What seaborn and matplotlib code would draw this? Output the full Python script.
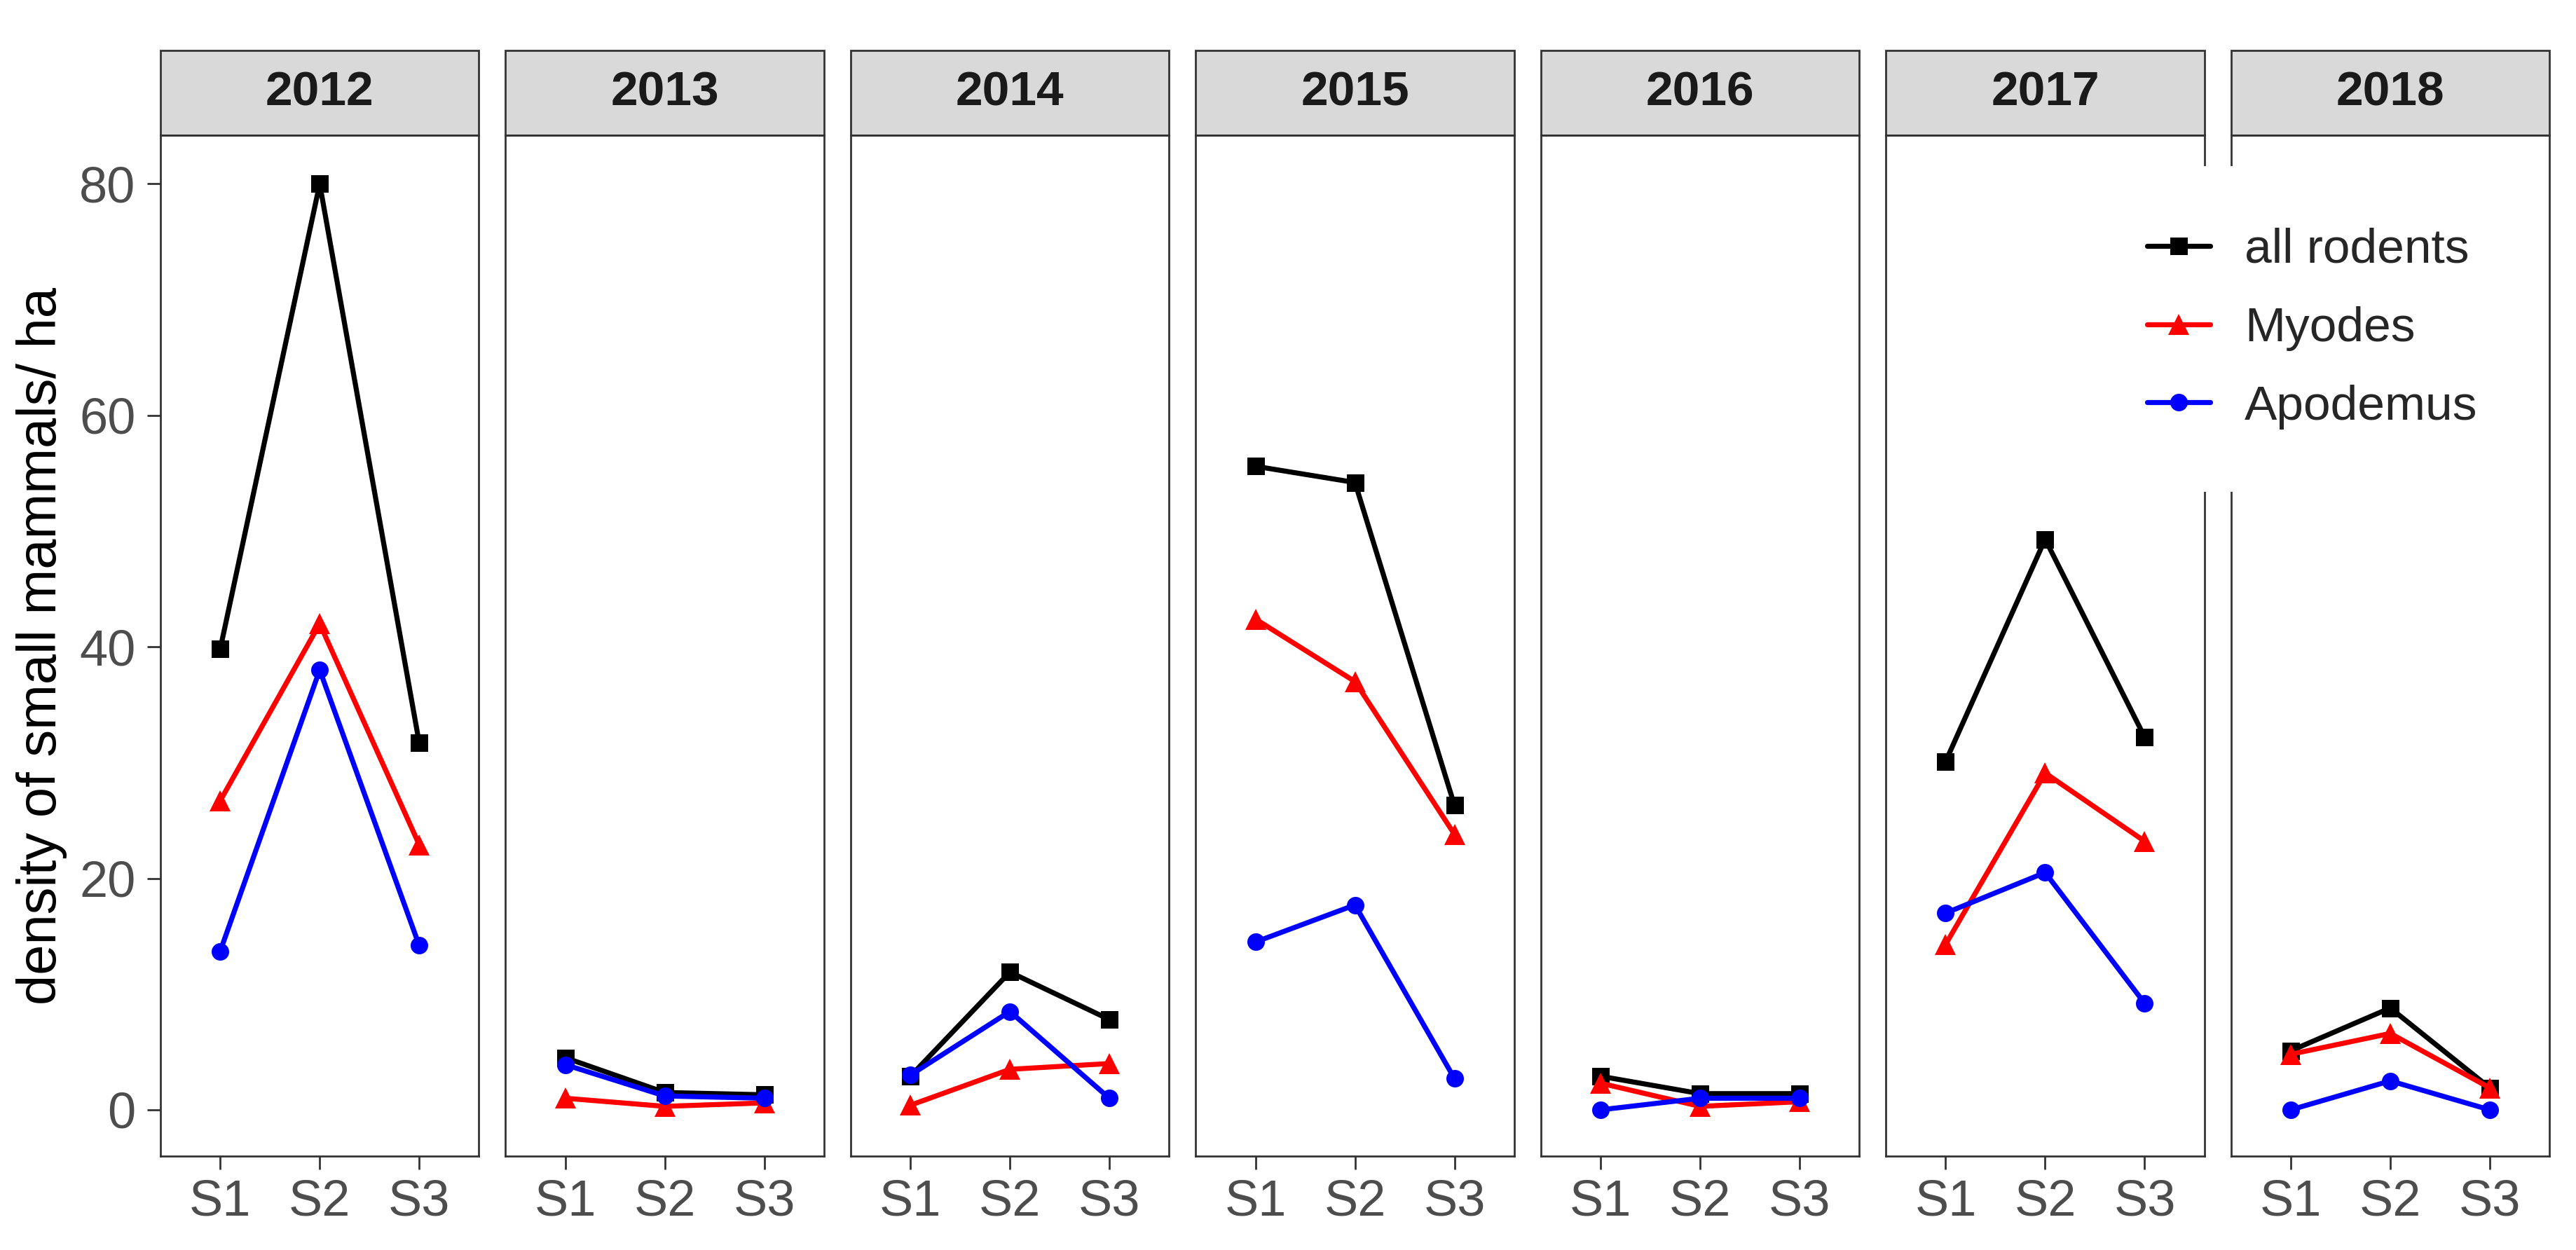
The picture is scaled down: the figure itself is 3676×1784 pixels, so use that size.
import pandas as pd
import seaborn as sns
import matplotlib.pyplot as plt
from matplotlib.patches import Rectangle

# densidades (por ano: S1, S2, S3)
years = ["2012", "2013", "2014", "2015", "2016", "2017", "2018"]
seasons = ["S1", "S2", "S3"]
groups = ["all rodents", "Myodes", "Apodemus"]

all_rodents = [[39.8, 80.0, 31.7], [4.5, 1.5, 1.3], [2.9, 11.9, 7.8], [55.6, 54.2, 26.3],
               [2.9, 1.4, 1.4], [30.1, 49.3, 32.2], [5.1, 8.8, 1.9]]
myodes = [[26.7, 42.0, 22.9], [1.0, 0.3, 0.6], [0.4, 3.5, 4.0], [42.4, 37.0, 23.8],
          [2.3, 0.3, 0.7], [14.3, 29.1, 23.2], [4.8, 6.6, 1.9]]
apodemus = [[13.7, 38.0, 14.2], [3.9, 1.2, 1.0], [3.0, 8.5, 1.0], [14.5, 17.7, 2.7],
            [0.0, 1.0, 1.0], [17.0, 20.5, 9.2], [0.0, 2.5, 0.0]]

linhas = []
for nome, valores in zip(groups, [all_rodents, myodes, apodemus]):
    for ano, vals in zip(years, valores):
        for s, v in zip(seasons, vals):
            linhas.append({"ano": ano, "season": s, "grupo": nome, "densidade": v})
dados = pd.DataFrame(linhas)

sns.set_style("white")
plt.rcParams["font.family"] = ["Liberation Sans", "DejaVu Sans"]

cores = {"all rodents": "#000000", "Myodes": "#FF0000", "Apodemus": "#0000FF"}
marcadores = {"all rodents": "s", "Myodes": "^", "Apodemus": "o"}
borda = "#333333"

fig, axes = plt.subplots(1, 7, figsize=(18.38, 8.92), dpi=200, sharey=True)
fig.subplots_adjust(left=0.0623, right=0.9897, bottom=0.0751, top=0.8918, wspace=0.0837)

for ax, ano in zip(axes, years):
    sub = dados[dados["ano"] == ano]
    sns.lineplot(data=sub, x="season", y="densidade", hue="grupo", style="grupo",
                 hue_order=groups, style_order=groups, palette=cores, markers=marcadores,
                 dashes=False, linewidth=2.6, markersize=9, markeredgewidth=0,
                 legend=(ano == years[0]), ax=ax)
    for ln in ax.lines:
        if ln.get_marker() == "^":
            ln.set_markersize(11)
    ax.set_xlim(-0.6, 2.6)
    ax.set_ylim(-4, 84.2)
    ax.set_xlabel("")
    ax.set_ylabel("")
    for sp in ax.spines.values():
        sp.set_visible(True)
        sp.set_color(borda)
        sp.set_linewidth(1.0)
    ax.tick_params(axis="x", length=6.8, width=1.0, color=borda, labelcolor="#4D4D4D",
                   labelsize=26, pad=5, bottom=True)
    ax.tick_params(axis="y", length=6.8, width=1.0, color=borda, labelcolor="#4D4D4D",
                   labelsize=26, pad=6, left=(ano == years[0]))
    # faixa cinza do titulo do painel
    ax.add_patch(Rectangle((0, 1), 1, 0.083, transform=ax.transAxes, facecolor="#D9D9D9",
                           edgecolor=borda, linewidth=1.0, clip_on=False))
    ax.text(0.5, 1.0415, ano, transform=ax.transAxes, ha="center", va="center",
            fontsize=25, fontweight="bold", color="#1A1A1A")

axes[0].set_yticks([0, 20, 40, 60, 80])
axes[0].set_ylabel("density of small mammals/ ha", fontsize=28, color="black", labelpad=6)

handles, labels = axes[0].get_legend_handles_labels()
axes[0].get_legend().remove()
for h in handles:
    h.set_markeredgewidth(0)
leg = fig.legend(handles, labels, loc="upper left", bbox_to_anchor=(0.8005, 0.886),
                 fontsize=25, frameon=True, facecolor="white", edgecolor="white",
                 framealpha=1, fancybox=False, handlelength=1.3, handletextpad=0.7,
                 labelspacing=0.69, borderpad=1.25)

plt.savefig("out.png", dpi=200)
